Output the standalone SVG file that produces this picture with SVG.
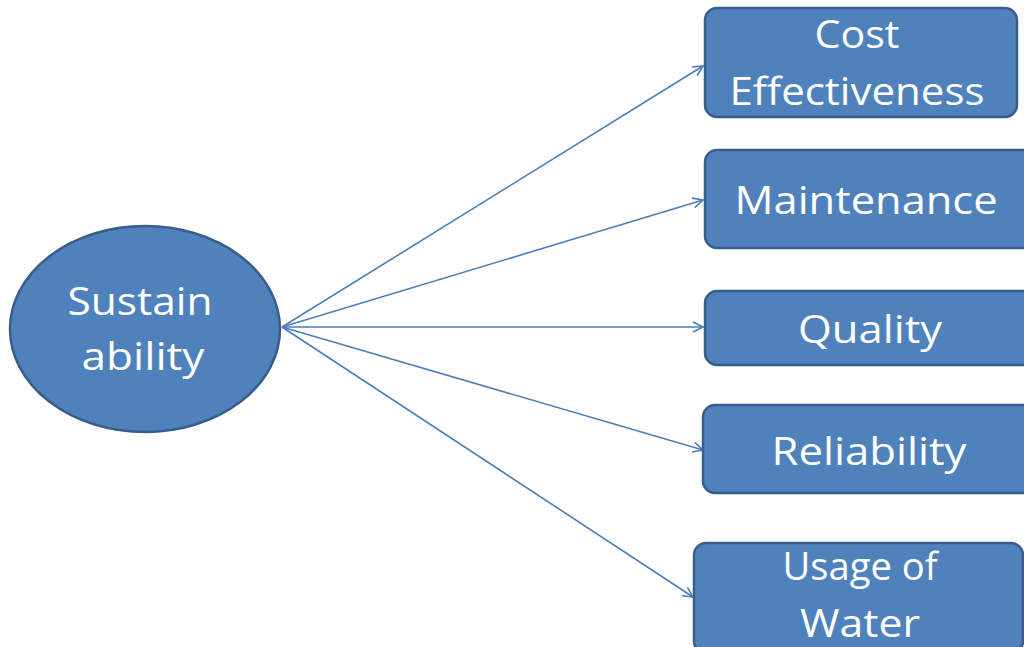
<svg xmlns="http://www.w3.org/2000/svg" width="1024" height="647" viewBox="0 0 1024 647">
<style>
.box{fill:#4f81bd;stroke:#385d8a;stroke-width:2.5}
.t{fill:#ffffff;font-family:"Open Sans","Liberation Sans",sans-serif;font-size:38px;text-anchor:middle}
.c{fill:none;stroke:#4a7ebb;stroke-width:1.6;marker-end:url(#ah)}
</style>
<defs>
<marker id="ah" markerWidth="14" markerHeight="14" refX="11" refY="6" orient="auto" markerUnits="userSpaceOnUse">
<path d="M1,1 L11,6 L1,11" fill="none" stroke="#4a7ebb" stroke-width="1.6"/>
</marker>
</defs>
<rect width="1024" height="647" fill="#ffffff"/>
<g id="connectors">
<line class="c" x1="282" y1="327" x2="703" y2="66"/>
<line class="c" x1="282" y1="327" x2="703" y2="200"/>
<line class="c" x1="282" y1="327" x2="703" y2="327"/>
<line class="c" x1="282" y1="327" x2="703" y2="450"/>
<line class="c" x1="282" y1="327" x2="693" y2="597"/>
</g>
<g id="sustainability">
<ellipse class="box" cx="145" cy="329" rx="135" ry="103"/>
<text class="t" x="140" y="315" textLength="145" lengthAdjust="spacingAndGlyphs">Sustain</text>
<text class="t" x="143" y="370" textLength="123" lengthAdjust="spacingAndGlyphs">ability</text>
</g>
<g id="cost">
<rect class="box" x="705" y="8" width="312" height="109" rx="12"/>
<text class="t" x="857" y="48" textLength="85" lengthAdjust="spacingAndGlyphs">Cost</text>
<text class="t" x="857" y="105" textLength="255" lengthAdjust="spacingAndGlyphs">Effectiveness</text>
</g>
<g id="maintenance">
<rect class="box" x="705" y="150" width="330" height="98" rx="12"/>
<text class="t" x="866" y="214" textLength="263" lengthAdjust="spacingAndGlyphs">Maintenance</text>
</g>
<g id="quality">
<rect class="box" x="705" y="291" width="330" height="74" rx="12"/>
<text class="t" x="870" y="343" textLength="144" lengthAdjust="spacingAndGlyphs">Quality</text>
</g>
<g id="reliability">
<rect class="box" x="703" y="405" width="332" height="88" rx="12"/>
<text class="t" x="869" y="465" textLength="195" lengthAdjust="spacingAndGlyphs">Reliability</text>
</g>
<g id="water">
<rect class="box" x="694" y="543" width="329" height="110" rx="12"/>
<text class="t" x="860" y="580" textLength="155" lengthAdjust="spacingAndGlyphs">Usage of</text>
<text class="t" x="860" y="637" textLength="120" lengthAdjust="spacingAndGlyphs">Water</text>
</g>
</svg>
